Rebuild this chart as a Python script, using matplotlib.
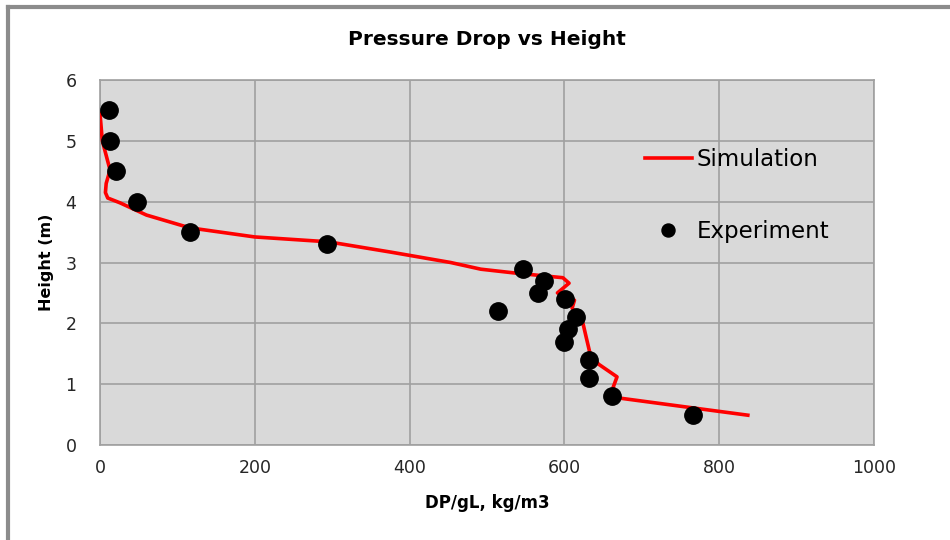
import matplotlib
matplotlib.use("Agg")
import matplotlib.pyplot as plt
from matplotlib.lines import Line2D

plt.rcParams['font.family'] = ['DejaVu Sans']

# Simulation curve
sim_x = [0, 3, 13, 8, 7, 10, 26, 60, 116, 200, 295, 376, 453, 492, 534, 598, 606,
         591, 613, 610, 624, 628, 633, 644, 668, 663, 672, 766, 837]
sim_y = [5.45, 5.0, 4.52, 4.3, 4.15, 4.06, 3.98, 3.78, 3.57, 3.42, 3.34, 3.17, 3.0,
         2.89, 2.83, 2.75, 2.66, 2.5, 2.38, 2.25, 2.0, 1.78, 1.51, 1.33, 1.12,
         0.95, 0.77, 0.61, 0.49]

# Experiment points
exp_x = [12, 13, 21, 48, 116, 293, 547, 573, 566, 601, 615, 605, 600, 514, 632, 632, 662, 766]
exp_y = [5.5, 5.0, 4.5, 4.0, 3.5, 3.3, 2.9, 2.7, 2.5, 2.4, 2.1, 1.9, 1.7, 2.2, 1.4, 1.1, 0.8, 0.5]

x_ticks = [0, 200, 400, 600, 800, 1000]
y_ticks = [0, 1, 2, 3, 4, 5, 6]

fig = plt.figure(figsize=(9.5, 5.4), dpi=100)
ax = fig.add_axes([100/950, 95/540, 774/950, 365/540])
ax.set_facecolor('#d9d9d9')

ax.plot(sim_x, sim_y, color='#ff0000', lw=2.6, label='Simulation', zorder=3,
        solid_joinstyle='round')
ax.plot(exp_x, exp_y, 'o', color='black', ms=12.5, label='Experiment', zorder=4)

ax.set_xlim(0, 1000)
ax.set_ylim(0, 6)
ax.set_xticks(x_ticks)
ax.set_yticks(y_ticks)
ax.grid(True, color='#a0a0a0', lw=1.2)
ax.set_axisbelow(True)
for s in ax.spines.values():
    s.set_color('#a0a0a0')
    s.set_linewidth(1.2)
ax.tick_params(length=0, labelsize=12.5, colors='#262626')
ax.tick_params(axis='x', pad=10)
ax.tick_params(axis='y', pad=17)

ax.set_title('Pressure Drop vs Height', fontsize=14.5, fontweight='bold', pad=25)
ax.set_xlabel('DP/gL, kg/m3', fontsize=12, fontweight='bold', labelpad=12)
ax.set_ylabel('Height (m)', fontsize=11.5, fontweight='bold', labelpad=8)

leg = ax.legend(loc='upper left', bbox_to_anchor=(0.704, 0.814), frameon=False,
                fontsize=16.5, handlelength=2.05, handletextpad=0.2,
                labelspacing=2.15, markerscale=0.75, borderpad=0, borderaxespad=0)

# outer chart border (gray, left and top)
fig.add_artist(Line2D([8/950, 8/950], [0, 1 - 7/540], transform=fig.transFigure,
                      color='#8c8c8c', lw=3))
fig.add_artist(Line2D([8/950, 1], [1 - 7/540, 1 - 7/540], transform=fig.transFigure,
                      color='#8c8c8c', lw=3))

fig.savefig('out.png', dpi=100)
